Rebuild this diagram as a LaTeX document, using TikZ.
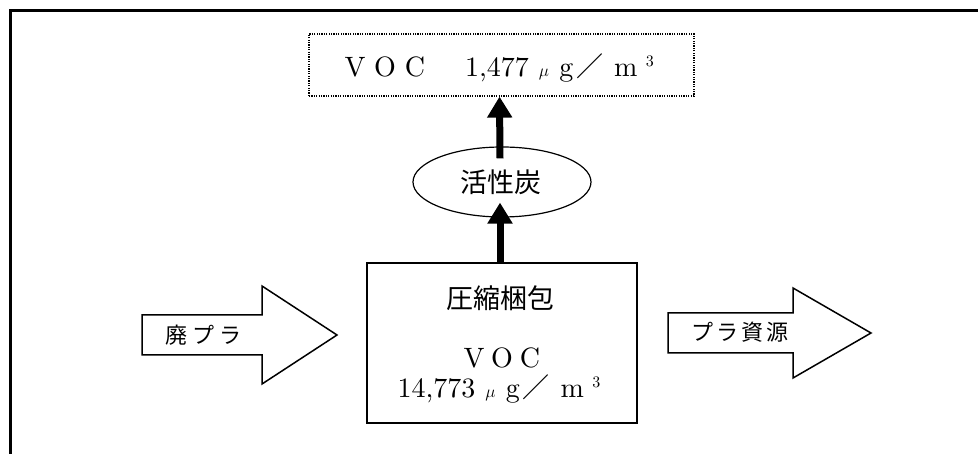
\documentclass[tikz,border=0pt]{standalone}
\usepackage{fontspec}
\newfontfamily\cjk{Noto Sans CJK JP}
\newfontfamily\lmten{lmroman10-regular.otf}
\usetikzlibrary{arrows.meta,shapes.geometric}
\newcommand{\fwc}[2][30pt]{\makebox[#1]{#2}}
\newcommand{\latinbig}{\lmten\fontsize{28}{30}\selectfont}
\newcommand{\supthree}{\raisebox{10pt}{\fontsize{16}{16}\selectfont 3}}
\newcommand{\mumark}{\makebox[30pt]{\fontsize{19}{19}\selectfont$\mu$}}
\newcommand{\unitrest}{\makebox[15pt]{g}\makebox[32pt]{\cjk\fontsize{27}{30}\selectfont ／}\makebox[40pt]{m}\supthree}
\tikzset{
  frameline/.style={line width=2.5pt},
  textbox/.style={inner sep=0pt},
  bigup/.style={line width=7pt,-{Triangle[width=24pt,length=21pt]}},
  blockarrow/.style={draw,line width=1.5pt,line join=miter,fill=white},
  cjklabel/.style={inner sep=0pt,font=\fontsize{27}{30}\cjk},
  smalllabel/.style={inner sep=0pt,font=\fontsize{22}{24}\cjk}
}
\begin{document}
\begin{tikzpicture}[x=1pt,y=-1pt]
\useasboundingbox (0,0) rectangle (978,454);
\fill[white] (0,0) rectangle (978,454);
% frame (top and left only)
\draw[frameline] (10.5,454) -- (10.5,10.5) -- (978,10.5);

% top result box
\node[draw,dash pattern=on 1.2pt off 1.2pt,line width=1.2pt,minimum width=385pt,minimum height=62pt,inner sep=0pt]
  (voc) at (501.5,65) {};
\node[textbox,anchor=base] (voctext) at (497,77)
  {\latinbig\fwc{V}\fwc{O}\fwc{C}\fwc{}\hspace{5pt}1,477\mumark\unitrest};

% activated carbon
\node[draw,ellipse,line width=1.2pt,minimum width=178pt,minimum height=70pt,inner sep=0pt,fill=white]
  (ac) at (502,182) {};
\node[cjklabel] (actext) at (501,182) {活性炭};

% baling box
\node[draw,line width=2pt,minimum width=270pt,minimum height=160pt,inner sep=0pt]
  (bale) at (502,343) {};
\node[cjklabel] (baletitle) at (500,298) {圧縮梱包};
\node[textbox,anchor=base] (balevoc) at (502,368) {\latinbig\fwc[28pt]{V}\fwc[28pt]{O}\fwc[28pt]{C}};
\node[textbox,anchor=base] (baleval) at (499,398) {\latinbig 14,773\mumark\unitrest};

% vertical arrows
\draw[bigup] ([xshift=-2pt]bale.north) -- ([xshift=-2pt,yshift=15pt]ac.south);
\draw[bigup] ([xshift=-2pt,yshift=-12pt]ac.north) -- ([xshift=-2pt]voc.south);

% input block arrow
\draw[blockarrow] (142,315) -- (262,315) -- (262,286) -- (337,335) -- (262,384) -- (262,355) -- (142,355) -- cycle;
\node[smalllabel] (waste) at (203.5,335) {廃\hspace{5pt}プ\hspace{5pt}ラ};

% output block arrow
\draw[blockarrow] (668,313) -- (793,313) -- (793,288) -- (871,333) -- (793,378) -- (793,353) -- (668,353) -- cycle;
\node[smalllabel] (resource) at (740,332) {プ\hspace{3pt}ラ\hspace{3pt}資\hspace{3pt}源};
\end{tikzpicture}
\end{document}
